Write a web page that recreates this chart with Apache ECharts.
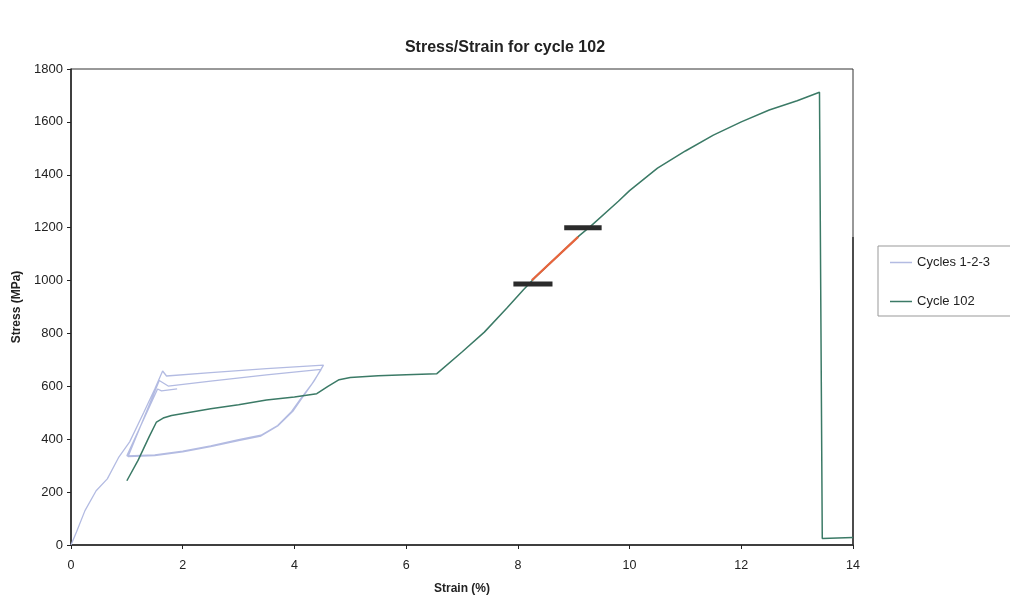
<!DOCTYPE html>
<html>
<head>
<meta charset="utf-8">
<script src="https://cdn.jsdelivr.net/npm/echarts@6/dist/echarts.min.js"></script>
<style>html,body{margin:0;padding:0;background:#fff;}#c{width:1010px;height:600px;}</style>
</head>
<body>
<div id="c"></div>
<script>
// ---- data ----
var titleText = 'Stress/Strain for cycle 102';
var xName = 'Strain (%)';
var yName = 'Stress (MPa)';
var xTicks = [0, 2, 4, 6, 8, 10, 12, 14];
var yTicks = [0, 200, 400, 600, 800, 1000, 1200, 1400, 1600, 1800];

// Cycles 1-2-3 (strain %, stress MPa)
var cycles123 = [
  [0,0],[0.1,50],[0.25,130],[0.45,205],[0.65,250],[0.85,330],[1.05,390],[1.3,500],[1.5,590],[1.64,658],
  [1.71,639],[2.5,652],[3.5,667],[4.52,680],
  [4.35,620],[4.15,560],[3.98,508],[3.7,450],[3.4,412],[3.0,395],[2.5,372],[2.0,352],[1.5,338],[1.02,334],
  [1.04,336],[1.58,622],[1.74,601],[2.5,620],[3.5,643],[4.48,664],
  [4.3,605],[4.1,550],[3.95,505],[3.7,452],[3.4,415],[3.0,398],[2.5,375],[2.0,355],[1.5,341],[1.0,337],
  [1.55,590],[1.62,583],[1.9,590]
];

// Cycle 102
var cycle102 = [
  [1.0,243],[1.2,320],[1.4,410],[1.53,465],[1.65,480],[1.8,490],[2.5,515],[3.0,530],[3.5,548],[4.0,560],
  [4.4,572],[4.6,600],[4.8,625],[5.0,633],[5.5,640],[6.0,644],[6.55,648],[7.0,730],[7.4,805],[7.8,895],
  [8.1,965],[8.3,1010],[8.7,1090],[9.1,1170],[9.3,1205],[9.8,1300],[10.0,1340],[10.5,1425],[11.0,1490],
  [11.5,1550],[12.0,1600],[12.5,1645],[13.0,1680],[13.4,1712],[13.45,25],[14.0,28]
];

// highlighted segment and limit bars
var highlight = [[8.25,1001],[9.08,1165]];
var lowerBar = [[7.92,987],[8.62,987]];
var upperBar = [[8.83,1200],[9.5,1200]];
var edgeLine = [[14,0],[14,1165]];

var chart = echarts.init(document.getElementById('c'));
var font = 'Liberation Sans, Arial, sans-serif';
chart.setOption({
  animation: false,
  backgroundColor: '#fff',
  title: {
    text: titleText, left: 'center', top: 35,
    textStyle: {fontFamily: font, fontSize: 16, fontWeight: 'bold', color: '#222'}
  },
  legend: {
    orient: 'vertical', left: 878, top: 246,
    padding: [10, 40, 8, 12], itemGap: 26, itemWidth: 22, itemHeight: 1.5,
    backgroundColor: '#fff', borderColor: '#999', borderWidth: 1,
    textStyle: {fontFamily: font, fontSize: 13, color: '#222'},
    data: [{name: 'Cycles 1-2-3', icon: 'rect'}, {name: 'Cycle 102', icon: 'rect'}]
  },
  grid: {left: 71, right: 157, top: 69, bottom: 54, show: true, borderColor: '#333', borderWidth: 1, backgroundColor: 'transparent'},
  xAxis: {
    type: 'value', min: 0, max: 14, interval: 2,
    name: xName, nameLocation: 'middle', nameGap: 38,
    nameTextStyle: {fontFamily: font, fontSize: 12, fontWeight: 'bold', color: '#222'},
    axisLine: {show: true, lineStyle: {color: '#222', width: 1.5}},
    axisTick: {show: true, length: 4, lineStyle: {color: '#222'}},
    axisLabel: {fontFamily: font, fontSize: 12.5, color: '#222', margin: 14,
      formatter: function (v) { return xTicks.indexOf(v) >= 0 ? String(v) : ''; }},
    splitLine: {show: false}
  },
  yAxis: {
    type: 'value', min: 0, max: 1800, interval: 200,
    name: yName, nameLocation: 'middle', nameGap: 46,
    nameTextStyle: {fontFamily: font, fontSize: 12, fontWeight: 'bold', color: '#222'},
    axisLine: {show: true, lineStyle: {color: '#222', width: 1.5}},
    axisTick: {show: true, length: 4, lineStyle: {color: '#222'}},
    axisLabel: {fontFamily: font, fontSize: 13, color: '#222', margin: 8,
      formatter: function (v) { return yTicks.indexOf(v) >= 0 ? String(v) : ''; }},
    splitLine: {show: false}
  },
  series: [
    {name: 'Cycles 1-2-3', type: 'line', data: cycles123, symbol: 'none',
      lineStyle: {color: '#b3bbe2', width: 1.3}, itemStyle: {color: '#b3bbe2'}, z: 2},
    {name: 'Cycle 102', type: 'line', data: cycle102, symbol: 'none',
      lineStyle: {color: '#3b7a66', width: 1.5}, itemStyle: {color: '#3b7a66'}, z: 3},
    {name: 'highlight', type: 'line', data: highlight, symbol: 'none',
      lineStyle: {color: '#e8643c', width: 2.2}, z: 4},
    {name: 'lowerBar', type: 'line', data: lowerBar, symbol: 'none',
      lineStyle: {color: '#2b2b2b', width: 5}, z: 5},
    {name: 'upperBar', type: 'line', data: upperBar, symbol: 'none',
      lineStyle: {color: '#2b2b2b', width: 5}, z: 5},
    {name: 'edge', type: 'line', data: edgeLine, symbol: 'none',
      lineStyle: {color: '#333', width: 1.5}, z: 1}
  ]
});
</script>
</body>
</html>
